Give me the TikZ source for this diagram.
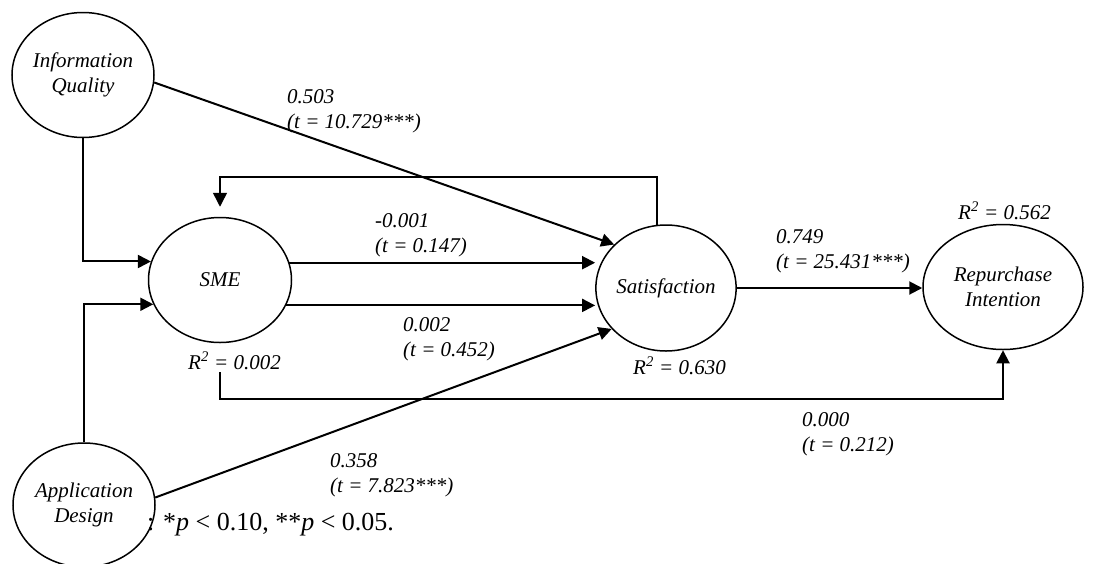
\documentclass[tikz,border=0pt]{standalone}
\usepackage{fontspec}
\setmainfont{Liberation Serif}
\usetikzlibrary{shapes.geometric,arrows.meta}
\begin{document}
\begin{tikzpicture}[x=1pt,y=-1pt,
  latent/.style={ellipse,draw,line width=1.5pt,inner sep=0pt,align=center,
    font=\fontsize{21}{25}\selectfont\itshape},
  arr/.style={line width=2pt,-{Triangle[length=13pt,width=13pt]}},
  fbarr/.style={line width=1.5pt,-{Triangle[length=14pt,width=14pt]}},
  lab/.style={anchor=base west,inner sep=0pt,align=left,
    font=\fontsize{21}{25}\selectfont\itshape},
]
\clip (0,0) rectangle (1105,563);
% latent variables
\node[latent,minimum width=142pt,minimum height=125pt] (IQ) at (83,75) {Information\\Quality};
\node[latent,minimum width=142pt,minimum height=124pt] (AD) at (84,505) {Application\\Design};
\node[latent,minimum width=143pt,minimum height=125pt] (SME) at (220,280) {SME};
\node[latent,minimum width=136pt,minimum height=126pt] (Sat) at (666,288) {Satisfaction};
\node[latent,minimum width=160pt,minimum height=125pt] (RI) at (1003,287) {Repurchase\\Intention};
% connectors
\draw[arr] (IQ.south) |- (SME.165);
\draw[arr] (AD.north) |- (SME.200);
\draw[arr] (SME.14) -- (SME.14 -| Sat.west);
\draw[arr] (SME.339) -- (SME.339 -| Sat.west);
\draw[arr] (IQ.-6) -- (Sat.140);
\draw[arr] (AD.6) -- (Sat.217);
\draw[arr] (Sat.east) -- (Sat.east -| RI.west);
\draw[fbarr,shorten >=10pt] (Sat.98) |- ([yshift=40pt]SME.north) -- (SME.north);
\draw[arr] ([yshift=-29pt]SME.south) |- ([yshift=-49pt]RI.south) -- (RI.south);
% labels (anchor = baseline of the last line)
\node[lab] (l1) at (287,128) {0.503\\(t = 10.729***)};
\node[lab] (l2) at (375,252) {-0.001\\(t = 0.147)};
\node[lab] (l3) at (403,356) {0.002\\(t = 0.452)};
\node[lab] (l4) at (776,268) {0.749\\(t = 25.431***)};
\node[lab] (l5) at (802,451) {0.000\\(t = 0.212)};
\node[lab] (l6) at (330,492) {0.358\\(t = 7.823***)};
\node[lab] (r1) at (188,369) {R\textsuperscript{2} = 0.002};
\node[lab] (r2) at (633,374) {R\textsuperscript{2} = 0.630};
\node[lab] (r3) at (958,219) {R\textsuperscript{2} = 0.562};
\node[anchor=base west,inner sep=0pt,font=\fontsize{26}{30}\selectfont] (note) at (147,530)
  {: *\textit{p} < 0.10, **\textit{p} < 0.05.};
\end{tikzpicture}
\end{document}
